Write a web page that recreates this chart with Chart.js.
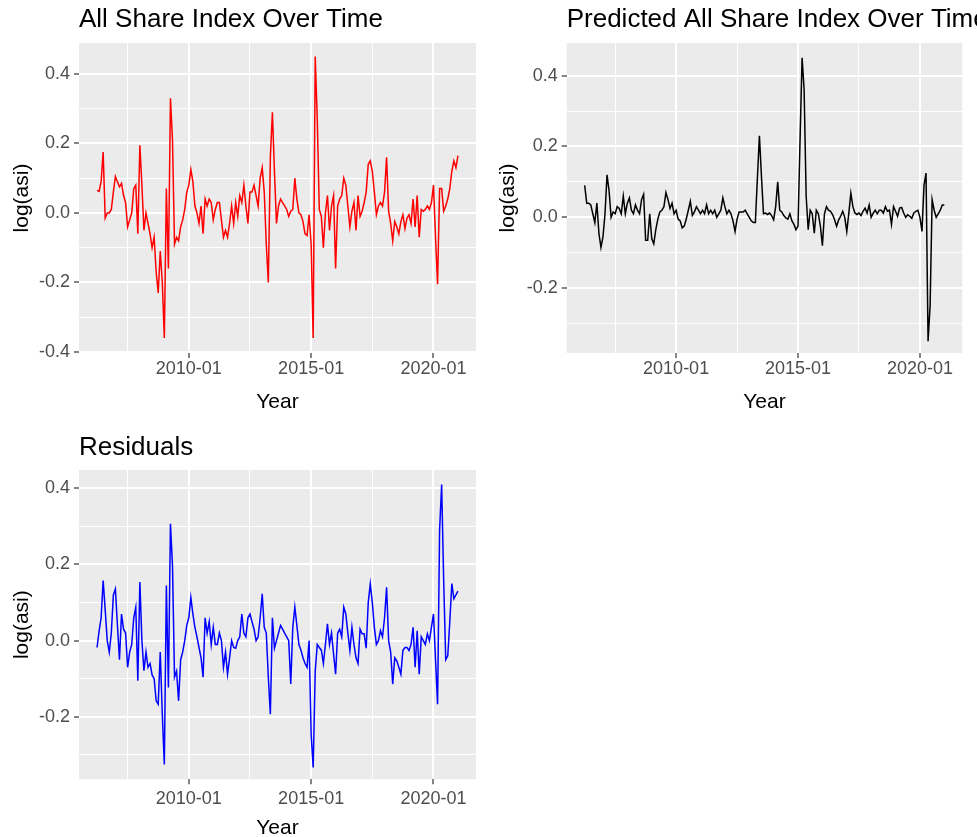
<!DOCTYPE html>
<html>
<head>
<meta charset="utf-8">
<script src="https://cdn.jsdelivr.net/npm/chart.js@4"></script>
<style>
html,body{margin:0;padding:0;background:#fff;overflow:hidden;width:977px;height:837px}
canvas{position:absolute}
</style>
</head>
<body>
<canvas id="c1" width="488" height="420" style="left:0;top:0"></canvas>
<canvas id="c2" width="489" height="420" style="left:488px;top:0"></canvas>
<canvas id="c3" width="488" height="430" style="left:0;top:420px"></canvas>
<script>
// monthly series, 2006-04 .. 2021-01
const startMonth = '2006-04';
const actual = [
  0.065, 0.062, 0.09, 0.175, -0.015,
  0.0, 0.0, 0.01, 0.06, 0.105,
  0.09, 0.075, 0.085, 0.05, 0.03,
  -0.04, -0.02, 0.0, 0.07, 0.08,
  -0.06, 0.195, 0.08, -0.05, 0.0,
  -0.03, -0.06, -0.1, -0.07, -0.17,
  -0.23, -0.11, -0.2, -0.36, 0.07,
  -0.16, 0.33, 0.21, -0.09, -0.07,
  -0.08, -0.04, -0.02, 0.01, 0.06,
  0.08, 0.125, 0.09, 0.02, 0.0,
  -0.03, 0.02, -0.06, 0.04, 0.02,
  0.04, 0.03, -0.02, 0.01, 0.03,
  0.03, -0.02, -0.07, -0.05, -0.07,
  -0.03, 0.02, -0.03, 0.03, -0.01,
  0.05, 0.03, 0.08, 0.02, -0.03,
  0.06, 0.06, 0.08, 0.05, 0.02,
  0.1, 0.13, 0.06, -0.09, -0.2,
  0.16, 0.29, 0.12, -0.03, 0.02,
  0.04, 0.03, 0.02, 0.01, -0.01,
  0.005, 0.01, 0.1, 0.04, 0.0,
  -0.005, -0.025, -0.06, -0.065, -0.005,
  -0.09, -0.36, 0.45, 0.27, 0.01,
  -0.01, -0.1, 0.0, 0.05, -0.05,
  0.02, 0.05, -0.16, 0.02, 0.04,
  0.05, 0.1, 0.08, 0.02, -0.04,
  0.005, 0.03, -0.05, 0.05, -0.01,
  0.005, 0.03, 0.06, 0.14, 0.15,
  0.12, 0.06, -0.005, 0.02, 0.03,
  0.02, 0.06, 0.16, 0.005, -0.03,
  -0.08, -0.025, -0.04, -0.06, -0.025,
  -0.005, -0.045, -0.015, -0.005, -0.03,
  0.04, -0.04, 0.05, -0.07, 0.01,
  0.005, 0.01, 0.02, 0.01, 0.03,
  0.08, -0.07, -0.205, 0.07, 0.07,
  0.005, 0.02, 0.04, 0.07, 0.12,
  0.15, 0.13, 0.165
];
const predicted = [
  0.09, 0.04, 0.04, 0.035, 0.01,
  -0.015, 0.04, -0.045, -0.085, -0.055,
  0.01, 0.12, 0.075, 0.0, 0.015,
  0.01, 0.03, 0.025, 0.01, 0.06,
  0.01, 0.04, 0.055, 0.02, 0.01,
  0.035, 0.02, 0.01, 0.05, 0.065,
  -0.065, -0.065, 0.01, -0.06, -0.075,
  -0.035, -0.005, 0.015, 0.02, 0.03,
  0.07, 0.05, 0.025, 0.04, 0.01,
  0.02, -0.005, -0.01, -0.03, -0.025,
  -0.005, 0.02, 0.045, 0.005, 0.015,
  0.03, 0.02, 0.01, 0.02, 0.01,
  0.035, 0.01, 0.02, 0.01, 0.02,
  0.0, 0.01, 0.02, 0.055, 0.03,
  0.01, 0.02, 0.01, -0.01, -0.04,
  -0.005, 0.015, 0.015, 0.015, 0.02,
  0.01, 0.0, -0.01, -0.015, -0.015,
  0.11, 0.23, 0.115, 0.01, 0.012,
  0.008, 0.012, 0.005, -0.007, 0.03,
  0.1, 0.02, 0.015, 0.005, -0.002,
  -0.005, 0.01, -0.01, -0.02, -0.035,
  -0.025, 0.22, 0.45, 0.36, 0.06,
  -0.035, 0.02, 0.01, -0.045, 0.02,
  0.01, -0.025, -0.08, 0.01, 0.03,
  0.02, 0.017, 0.008, -0.007, -0.025,
  -0.007, 0.003, 0.017, 0.0, -0.04,
  0.012, 0.068, 0.03, 0.012, 0.008,
  0.012, 0.005, 0.017, 0.026, 0.012,
  0.035, 0.0, 0.012, 0.02, 0.01,
  0.02, 0.02, 0.012, 0.03, 0.017,
  0.02, -0.02, 0.03, 0.017, 0.003,
  0.026, 0.028, 0.012, 0.0, 0.007,
  0.003, -0.003, 0.012, 0.017, 0.02,
  0.0, -0.04, 0.09, 0.125, -0.35,
  -0.25, 0.05, 0.02, 0.0, 0.01,
  0.02, 0.035, 0.035
];
const residuals = [
  -0.018, 0.025, 0.06, 0.158, 0.08,
  0.0, -0.03, 0.02, 0.12, 0.136,
  0.04, -0.05, 0.07, 0.03, 0.02,
  -0.07, -0.03, -0.01, 0.06, 0.088,
  -0.105, 0.154, 0.0, -0.079, -0.03,
  -0.07, -0.06, -0.09, -0.1, -0.158,
  -0.167, -0.03, -0.193, -0.325, 0.145,
  -0.123, 0.307, 0.197, -0.096, -0.08,
  -0.158, -0.05, -0.03, 0.0, 0.04,
  0.06, 0.114, 0.07, 0.035, 0.01,
  -0.018, -0.045, -0.096, 0.06, 0.02,
  0.05, -0.01, 0.035, -0.01, -0.01,
  0.02, 0.0, -0.07, -0.03, -0.088,
  -0.045, 0.0, -0.018, -0.02, 0.0,
  0.01, 0.07, 0.02, 0.01, 0.06,
  0.07, 0.05, 0.03, 0.0, 0.01,
  0.06, 0.123, 0.035, 0.02, -0.096,
  -0.193, 0.06, -0.02, 0.0, 0.02,
  0.04, 0.03, 0.02, 0.01, 0.0,
  -0.114, 0.035, 0.088, 0.04, -0.01,
  -0.025, -0.045, -0.06, -0.07, 0.0,
  -0.246, -0.333, -0.08, -0.01, -0.018,
  -0.025, -0.06, -0.01, 0.044, -0.01,
  0.02, -0.035, -0.088, 0.02, 0.03,
  0.01, 0.088, 0.07, 0.02, -0.026,
  0.035, -0.01, -0.045, -0.06, 0.03,
  0.018, 0.018, -0.02, 0.1, 0.149,
  0.1, 0.035, -0.01, 0.0, 0.026,
  0.01, 0.06, 0.14, 0.0, -0.03,
  -0.114, -0.045, -0.053, -0.07, -0.088,
  -0.026, -0.018, -0.018, -0.026, -0.01,
  0.035, -0.07, 0.026, -0.088, 0.01,
  0.0, -0.01, 0.018, 0.0, 0.035,
  0.07, -0.05, -0.167, 0.29, 0.41,
  0.158, -0.05, -0.04, 0.05, 0.15,
  0.11, 0.12, 0.13
];
const xMajorLabels = ['2010-01', '2015-01', '2020-01'];
const xMinorLabels = ['2007-07', '2012-07', '2017-07'];
const yTickValues = [-0.4, -0.3, -0.2, -0.1, 0.0, 0.1, 0.2, 0.3, 0.4];

// months counted from 2010-01
function monthIndex(s) {
  const [y, m] = s.split('-').map(Number);
  return (y - 2010) * 12 + (m - 1);
}
function monthLabel(idx) {
  const y = 2010 + Math.floor(idx / 12), m = ((idx % 12) + 12) % 12 + 1;
  return y + '-' + String(m).padStart(2, '0');
}
const categories = [];
for (let i = 0; i < actual.length; i++) categories.push(monthLabel(monthIndex(startMonth) + i));

const xMajor = xMajorLabels.map(monthIndex);
const xTicks = xMinorLabels.map(monthIndex).concat(xMajor).sort((a, b) => a - b);
const first = monthIndex(categories[0]), last = monthIndex(categories[categories.length - 1]);
const xPad = (last - first) * 0.05;

const FONT = "'Liberation Sans', Arial, sans-serif";
const isMajorY = v => Math.round(v * 10) % 2 === 0;

const panelPlugin = {
  id: 'panel',
  beforeDraw(chart, args, opts) {
    const a = chart.chartArea, ctx = chart.ctx;
    ctx.save();
    ctx.fillStyle = '#EBEBEB';
    ctx.fillRect(a.left, a.top, a.right - a.left, a.bottom - a.top);
    ctx.restore();
  },
  afterDraw(chart, args, opts) {
    const ctx = chart.ctx;
    ctx.save();
    ctx.font = '26px ' + FONT;
    ctx.fillStyle = '#000';
    ctx.textBaseline = 'middle';
    ctx.fillText(opts.text, chart.chartArea.left, opts.y);
    ctx.restore();
  }
};

function makePanel(id, title, titleY, values, color, yMin, yMax, box) {
  new Chart(document.getElementById(id), {
    type: 'line',
    data: {
      datasets: [{
        data: categories.map((c, i) => ({x: monthIndex(c), y: values[i]})),
        borderColor: color,
        borderWidth: 1.5,
        pointRadius: 0,
        tension: 0,
        fill: false
      }]
    },
    options: {
      responsive: false,
      animation: false,
      devicePixelRatio: 1,
      layout: {padding: {top: box.top, right: box.right, left: 0, bottom: 0}},
      plugins: {
        legend: {display: false},
        tooltip: {enabled: false},
        panel: {text: title, y: titleY}
      },
      scales: {
        x: {
          type: 'linear',
          min: first - xPad,
          max: last + xPad,
          afterBuildTicks: s => { s.ticks = xTicks.map(v => ({value: v})); },
          afterFit: s => { s.height = box.xHeight; },
          border: {display: false},
          grid: {
            color: '#FFFFFF',
            lineWidth: c => xMajor.includes(c.tick.value) ? 2 : 1,
            tickLength: 5,
            tickWidth: 1.2,
            tickColor: c => xMajor.includes(c.tick.value) ? '#333333' : 'rgba(0,0,0,0)'
          },
          ticks: {
            autoSkip: false,
            maxRotation: 0,
            padding: box.xTickPad,
            color: '#4D4D4D',
            font: {family: FONT, size: 18, lineHeight: 1.0},
            callback: v => xMajor.includes(v) ? monthLabel(v) : ''
          },
          title: {
            display: true,
            text: 'Year',
            color: '#000',
            font: {family: FONT, size: 21},
            padding: {top: 0, bottom: box.xTitleBottom}
          }
        },
        y: {
          min: yMin,
          max: yMax,
          afterBuildTicks: s => { s.ticks = yTickValues.filter(v => v >= yMin && v <= yMax).map(v => ({value: v})); },
          afterFit: s => { s.width = box.yWidth; },
          border: {display: false},
          grid: {
            color: '#FFFFFF',
            lineWidth: c => isMajorY(c.tick.value) ? 2 : 1,
            tickLength: 5,
            tickWidth: 1.2,
            tickColor: c => isMajorY(c.tick.value) ? '#333333' : 'rgba(0,0,0,0)'
          },
          ticks: {
            padding: 4,
            color: '#4D4D4D',
            font: {family: FONT, size: 18},
            callback: v => isMajorY(v) ? v.toFixed(1) : ''
          },
          title: {
            display: true,
            text: 'log(asi)',
            color: '#000',
            font: {family: FONT, size: 21},
            padding: {top: box.yTitleTop, bottom: 0}
          }
        }
      }
    },
    plugins: [panelPlugin]
  });
}

makePanel('c1', 'All Share Index Over Time', 20, actual, '#FF0000', -0.403, 0.489,
  {top: 43, right: 12, xHeight: 67, yWidth: 79, xTickPad: 2, xTitleBottom: 5.5, yTitleTop: 10});
makePanel('c2', 'Predicted All Share Index Over Time', 20, predicted, '#000000', -0.383, 0.492,
  {top: 43, right: 14.7, xHeight: 67, yWidth: 78.7, xTickPad: 2, xTitleBottom: 5.5, yTitleTop: 8});
makePanel('c3', 'Residuals', 28, residuals, '#0000FF', -0.364, 0.448,
  {top: 50, right: 12, xHeight: 70.7, yWidth: 79, xTickPad: 6, xTitleBottom: 9.5, yTitleTop: 10});
</script>
</body>
</html>
